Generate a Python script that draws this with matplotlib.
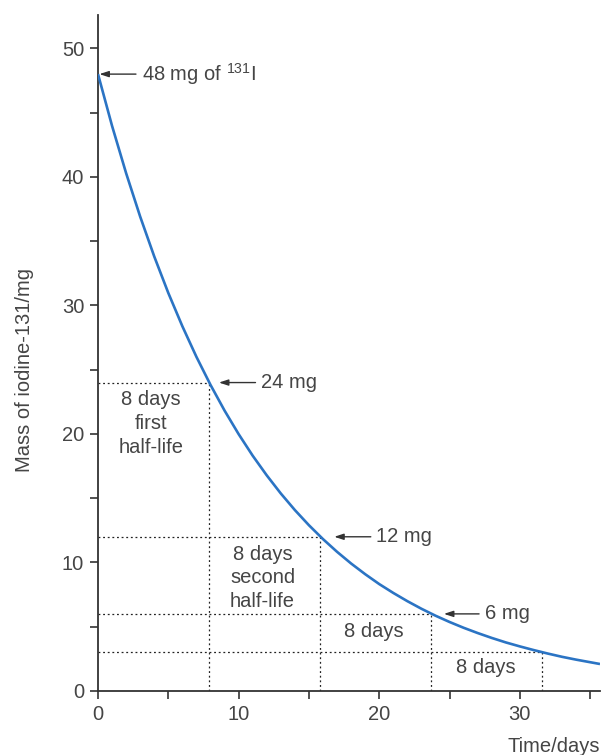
import matplotlib
matplotlib.use("Agg")
import matplotlib.pyplot as plt
from matplotlib.ticker import MultipleLocator

plt.rcParams['font.family'] = ['Liberation Sans', 'DejaVu Sans']
plt.rcParams['mathtext.fontset'] = 'custom'
plt.rcParams['mathtext.rm'] = 'Liberation Sans'
plt.rcParams['mathtext.it'] = 'Liberation Sans'

# curve values
days = [0, 1, 2, 3, 4, 5, 6, 7, 8, 9, 10, 11, 12, 13, 14, 15, 16, 17, 18,
        19, 20, 21, 22, 23, 24, 25, 26, 27, 28, 29, 30, 31, 32, 33, 34, 35, 35.7]
mass = [48.0, 43.97, 40.29, 36.91, 33.81, 30.97, 28.38, 26.0, 23.82, 21.82,
        19.99, 18.31, 16.78, 15.37, 14.08, 12.9, 11.82, 10.83, 9.92, 9.09,
        8.32, 7.63, 6.99, 6.4, 5.86, 5.37, 4.92, 4.51, 4.13, 3.78, 3.47,
        3.18, 2.91, 2.66, 2.44, 2.24, 2.10]

# half-life guide points
half_t = [7.9, 15.8, 23.7, 31.6]
half_m = [24, 12, 6, 3]

# arrow annotations
ann_labels = [r"$\mathrm{48\ mg\ of\ }^{\mathrm{131}}\mathrm{I}$", "24 mg", "12 mg", "6 mg"]
ann_tip_x = [0.1, 8.6, 16.8, 24.6]
ann_tip_y = [48, 24, 12, 6]
ann_text_x = [2.7, 11.2, 19.4, 27.1]

# interval labels
box_labels = ["8 days\nfirst\nhalf-life", "8 days\nsecond\nhalf-life", "8 days", "8 days"]
box_x = [3.75, 11.7, 19.6, 27.6]
box_y = [20.8, 8.8, 4.6, 1.8]

TXT = '#454545'
AX = '#333333'
FS = 14.5

fig = plt.figure(figsize=(6.03, 7.55), dpi=100)
ax = fig.add_axes([98/603, 64/755, 502/603, 676/755])

ax.plot(days, mass, color='#2b74c4', lw=1.9, zorder=3, solid_capstyle='butt')

for t, m in zip(half_t, half_m):
    ax.plot([0, t], [m, m], color='#222222', lw=0.9, ls=(0, (1.5, 2.2)), zorder=2)
    ax.plot([t, t], [0, m], color='#222222', lw=0.9, ls=(0, (1.5, 2.2)), zorder=2)

for lab, tx, ty, sx in zip(ann_labels, ann_tip_x, ann_tip_y, ann_text_x):
    ax.annotate('', xy=(tx, ty), xytext=(sx, ty),
                arrowprops=dict(arrowstyle='-|>,head_length=0.55,head_width=0.18',
                                color='#333333', lw=1.0, shrinkA=0, shrinkB=0))
    ax.text(sx + 0.4, ty, lab, ha='left', va='center', fontsize=FS, color=TXT)

for lab, bx, by in zip(box_labels, box_x, box_y):
    ax.text(bx, by, lab, ha='center', va='center', fontsize=FS, color=TXT,
            linespacing=1.32)

ax.set_xlim(0, 35.7)
ax.set_ylim(0, 52.6)
ax.xaxis.set_major_locator(MultipleLocator(10))
ax.xaxis.set_minor_locator(MultipleLocator(5))
ax.yaxis.set_major_locator(MultipleLocator(10))
ax.yaxis.set_minor_locator(MultipleLocator(5))

for s in ['top', 'right']:
    ax.spines[s].set_visible(False)
for s in ['left', 'bottom']:
    ax.spines[s].set_color(AX)
    ax.spines[s].set_linewidth(1.3)

ax.tick_params(which='both', direction='out', length=6, width=1.2, color=AX,
               labelsize=FS, labelcolor=TXT, pad=4)
ax.tick_params(which='minor', labelleft=False, labelbottom=False)

ax.set_ylabel('Mass of iodine-131/mg', fontsize=FS, color=TXT)
ax.yaxis.set_label_coords(-0.127, 0.475)
ax.text(1.0, -0.082, 'Time/days', transform=ax.transAxes, ha='right', va='center',
        fontsize=FS, color=TXT)

fig.savefig('out.png', dpi=100)
